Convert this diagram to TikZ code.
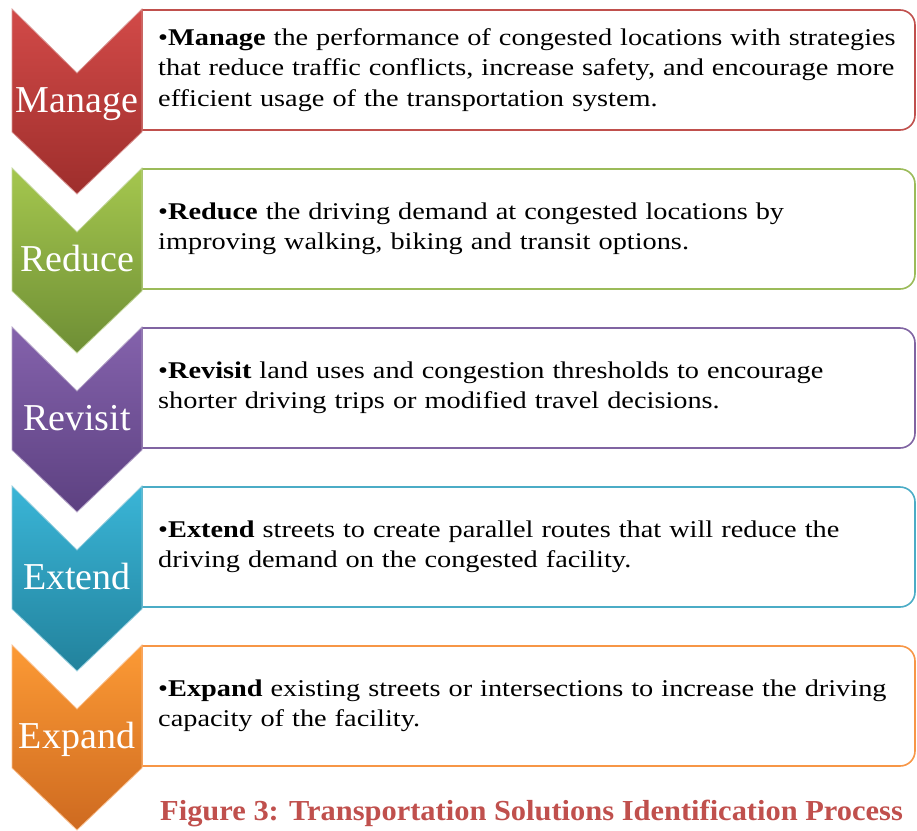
\documentclass[tikz,border=0pt]{standalone}
\usepackage{fontspec}
\setmainfont{Liberation Serif}
\newfontfamily\bodyfont[FakeStretch=1.18]{Liberation Serif}
\newfontfamily\capfont[FakeStretch=1.05]{Liberation Serif}
\usepackage{xcolor}
\usetikzlibrary{positioning}

\definecolor{redline}{HTML}{C0504D}
\definecolor{greenline}{HTML}{9BBB59}
\definecolor{purpleline}{HTML}{8064A2}
\definecolor{blueline}{HTML}{4BACC6}
\definecolor{orangeline}{HTML}{F79646}
\definecolor{redtop}{HTML}{D24A48}       \definecolor{redbot}{HTML}{9E2E2C}
\definecolor{greentop}{HTML}{A5C74E}     \definecolor{greenbot}{HTML}{6E8E35}
\definecolor{purpletop}{HTML}{8462AC}    \definecolor{purplebot}{HTML}{5D4181}
\definecolor{bluetop}{HTML}{3AB5D7}      \definecolor{bluebot}{HTML}{22829C}
\definecolor{orangetop}{HTML}{FC9A35}    \definecolor{orangebot}{HTML}{CE6A20}

\tikzset{
  steplabel/.style={anchor=base, text=white, font=\fontsize{38}{42}\selectfont, inner sep=0pt},
  steptext/.style={anchor=west, text width=760pt, align=left, inner sep=0pt,
    font=\bodyfont\fontsize{24}{30.5}\selectfont},
  stepbox/.style={draw=#1, line width=1.6pt, fill=white},
  chevron/.style={draw=#1!60!white, line width=0.8pt}
}

\begin{document}
\begin{tikzpicture}[x=1pt, y=-1pt]
  \useasboundingbox (0,0) rectangle (917,830);

  % Text boxes (square on the left, rounded on the right)
  \draw[stepbox=redline]    (142,10)  [rounded corners=15pt] -- (915,10)  -- (915,130) [sharp corners] -- (142,130) -- cycle;
  \draw[stepbox=greenline]  (142,169) [rounded corners=15pt] -- (915,169) -- (915,289) [sharp corners] -- (142,289) -- cycle;
  \draw[stepbox=purpleline] (142,328) [rounded corners=15pt] -- (915,328) -- (915,448) [sharp corners] -- (142,448) -- cycle;
  \draw[stepbox=blueline]   (142,487) [rounded corners=15pt] -- (915,487) -- (915,607) [sharp corners] -- (142,607) -- cycle;
  \draw[stepbox=orangeline] (142,646) [rounded corners=15pt] -- (915,646) -- (915,766) [sharp corners] -- (142,766) -- cycle;

  % Chevrons
  \shade[chevron=redline, top color=redtop, bottom color=redbot]
    (12,9) -- (77,73) -- (142,9) -- (142,132) -- (77,194) -- (12,132) -- cycle;
  \shade[chevron=greenline, top color=greentop, bottom color=greenbot]
    (12,168) -- (77,232) -- (142,168) -- (142,291) -- (77,353) -- (12,291) -- cycle;
  \shade[chevron=purpleline, top color=purpletop, bottom color=purplebot]
    (12,327) -- (77,391) -- (142,327) -- (142,450) -- (77,512) -- (12,450) -- cycle;
  \shade[chevron=blueline, top color=bluetop, bottom color=bluebot]
    (12,486) -- (77,550) -- (142,486) -- (142,609) -- (77,671) -- (12,609) -- cycle;
  \shade[chevron=orangeline, top color=orangetop, bottom color=orangebot]
    (12,645) -- (77,709) -- (142,645) -- (142,768) -- (77,830) -- (12,768) -- cycle;

  % Chevron labels
  \node[steplabel] (manage) at (77,112) {Manage};
  \node[steplabel] (reduce) at (77,271) {Reduce};
  \node[steplabel] (revisit) at (77,430) {Revisit};
  \node[steplabel] (extend) at (77,589) {Extend};
  \node[steplabel] (expand) at (77,748) {Expand};

  % Descriptions
  \node[steptext] (managetxt) at (158,70) {\hangindent=14pt\hangafter=1
    \textbullet\textbf{Manage} the performance of congested locations with strategies\\
    that reduce traffic conflicts, increase safety, and encourage more\\
    efficient usage of the transportation system.};
  \node[steptext] (reducetxt) at (158,229) {\hangindent=14pt\hangafter=1
    \textbullet\textbf{Reduce} the driving demand at congested locations by\\
    improving walking, biking and transit options.};
  \node[steptext] (revisittxt) at (158,388) {\hangindent=14pt\hangafter=1
    \textbullet\textbf{Revisit} land uses and congestion thresholds to encourage\\
    shorter driving trips or modified travel decisions.};
  \node[steptext] (extendtxt) at (158,547) {\hangindent=14pt\hangafter=1
    \textbullet\textbf{Extend} streets to create parallel routes that will reduce the\\
    driving demand on the congested facility.};
  \node[steptext] (expandtxt) at (158,706) {\hangindent=14pt\hangafter=1
    \textbullet\textbf{Expand} existing streets or intersections to increase the driving\\
    capacity of the facility.};

  % Caption
  \node[anchor=base west, inner sep=0pt, text=redline, font=\capfont\fontsize{29}{34}\selectfont\bfseries]
    (caption) at (160,820) {Figure 3: Transportation Solutions Identification Process};
\end{tikzpicture}
\end{document}
